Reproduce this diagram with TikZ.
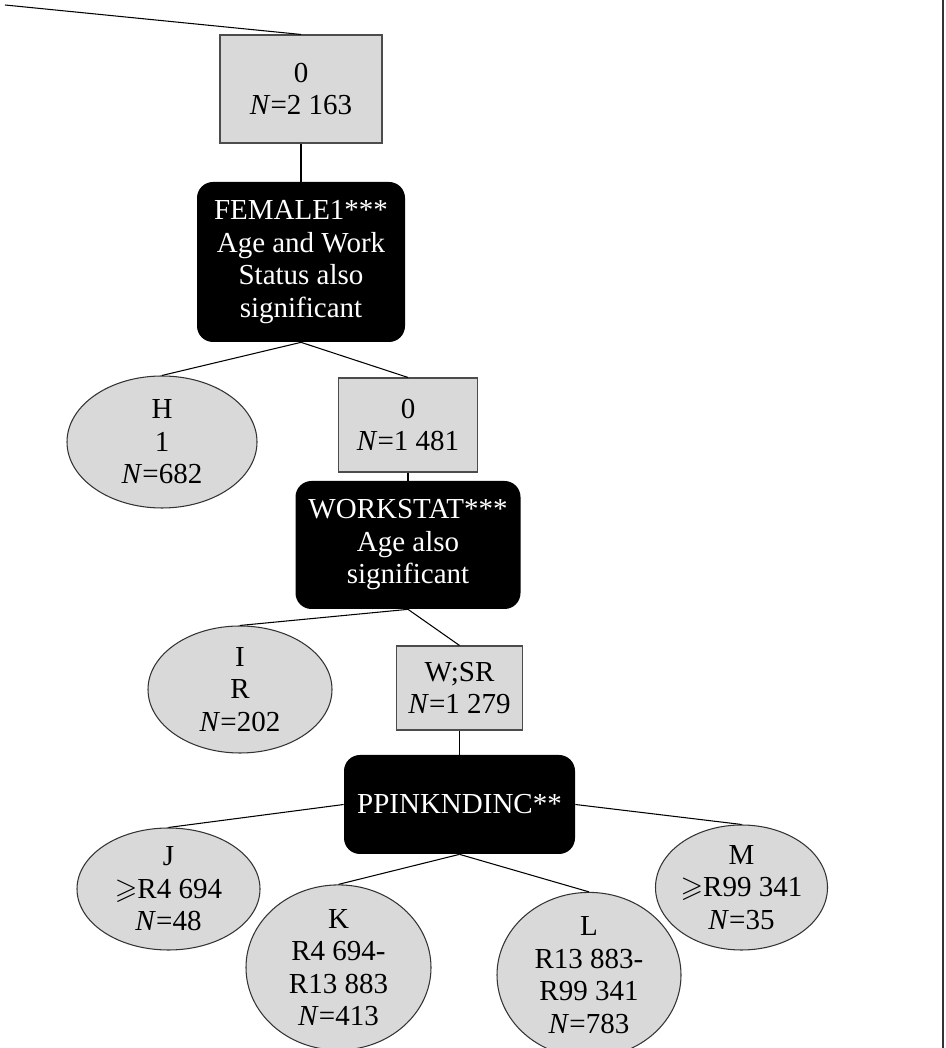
\documentclass[tikz,border=0pt]{standalone}
\usepackage{amssymb}
\usepackage{fontspec}
\setmainfont{Liberation Serif}
\usepackage{tikz}
\usetikzlibrary{shapes}
\definecolor{leafgray}{RGB}{217,217,217}
\tikzstyle{tsNodeText} = [ 
    text=black, 
    font=\fontsize{16.5}{18.5}\selectfont,
    align=center
]
\tikzstyle{tsGrayBox} = [ 
    rectangle,
    tsNodeText,
    draw=black!70,
    fill=leafgray,
    inner sep=0pt,
    line width=0.6pt]
\tikzstyle{tsSplitBox} = [ 
    rectangle,
    rounded corners=0.32cm,
    tsNodeText,
    text=white,
    fill=black,
    inner sep=0pt]
\tikzstyle{tsLeaf} = [ 
    ellipse,
    tsNodeText,
    draw=black!80,
    fill=leafgray,
    inner sep=0pt,
    line width=0.6pt]
\tikzstyle{tsEdge} = [ 
    draw=black,
    line width=0.6pt]

\begin{document}
\begin{tikzpicture}

    \useasboundingbox (0,0) rectangle (18.9,20.96);

    \draw[line width=0.8pt, black!80] (18.86,0) -- (18.86,20.96);

    \coordinate (up) at (0.1,20.86);

    \node[  tsGrayBox, 
            minimum width=3.24cm,
            minimum height=2.16cm] (root) at (6.02,19.18) {0\\\textit{N}=2 163};

    \node[  tsSplitBox, 
            minimum width=4.16cm,
            minimum height=3.2cm] (female) at (6.02,15.72)
            {FEMALE1***\\Age and Work\\Status also\\significant};

    \node[  tsLeaf, 
            minimum width=3.8cm,
            minimum height=2.64cm] (H) at (3.24,12.12) {H\\1\\\textit{N}=682};

    \node[  tsGrayBox, 
            minimum width=2.78cm,
            minimum height=1.88cm] (male) at (8.16,12.46) {0\\\textit{N}=1 481};

    \node[  tsSplitBox, 
            minimum width=4.5cm,
            minimum height=2.56cm] (workstat) at (8.16,10.06)
            {WORKSTAT***\\Age also\\significant};

    \node[  tsLeaf, 
            minimum width=3.68cm,
            minimum height=2.54cm] (I) at (4.8,7.17) {I\\R\\\textit{N}=202};

    \node[  tsGrayBox, 
            minimum width=2.52cm,
            minimum height=1.68cm] (worksr) at (9.19,7.2) {W;SR\\\textit{N}=1 279};

    \node[  tsSplitBox, 
            minimum width=4.62cm,
            minimum height=1.98cm] (income) at (9.19,4.87) {PPINKNDINC**};

    \node[  tsLeaf, 
            minimum width=3.66cm,
            minimum height=2.44cm] (J) at (3.37,3.18)
            {J\\$\geqslant$R4 694\\\textit{N}=48};

    \node[  tsLeaf, 
            minimum width=3.7cm,
            minimum height=2.7cm] (K) at (6.77,1.61)
            {K\\R4 694-\\R13 883\\\textit{N}=413};

    \node[  tsLeaf, 
            minimum width=3.68cm,
            minimum height=2.72cm] (L) at (11.78,1.46)
            {L\\R13 883-\\R99 341\\\textit{N}=783};

    \node[  tsLeaf, 
            minimum width=3.38cm,
            minimum height=2.5cm] (M) at (14.83,3.21)
            {M\\$\geqslant$R99 341\\\textit{N}=35};

    \draw[tsEdge] (up) -- (root.north);
    \draw[tsEdge] (root.south) -- (female.north);
    \draw[tsEdge] (female.south) -- (H.north);
    \draw[tsEdge] (female.south) -- (male.north);
    \draw[tsEdge] (male.south) -- (workstat.north);
    \draw[tsEdge] (workstat.south) -- (I.north);
    \draw[tsEdge] (workstat.south) -- (worksr.north);
    \draw[tsEdge] (worksr.south) -- (income.north);
    \draw[tsEdge] (income.west) -- (J.north);
    \draw[tsEdge] (income.south) -- (K.north);
    \draw[tsEdge] (income.south) -- (L.north);
    \draw[tsEdge] (income.east) -- (M.north);

\end{tikzpicture}
\end{document}
